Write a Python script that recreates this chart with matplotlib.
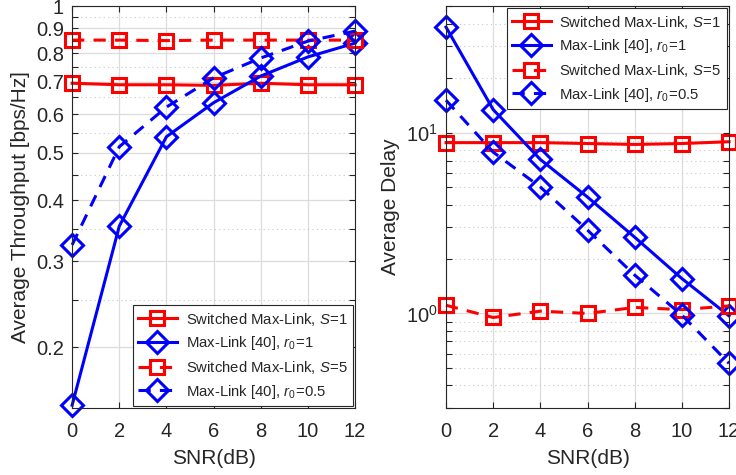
import matplotlib
matplotlib.use("Agg")
import matplotlib.pyplot as plt
from matplotlib.ticker import FixedLocator, NullFormatter, LogLocator

plt.rcParams['font.family'] = ['Liberation Sans', 'DejaVu Sans']
plt.rcParams['mathtext.fontset'] = 'custom'
plt.rcParams['mathtext.rm'] = 'Liberation Sans'
plt.rcParams['mathtext.it'] = 'Liberation Sans:italic'
plt.rcParams['text.color'] = '#262626'
plt.rcParams['axes.labelcolor'] = '#262626'
plt.rcParams['xtick.color'] = '#262626'
plt.rcParams['ytick.color'] = '#262626'

snr = [0, 2, 4, 6, 8, 10, 12]

# throughput [bps/Hz]
thr_s1 = [0.695, 0.69, 0.69, 0.688, 0.695, 0.69, 0.69]
thr_r1 = [0.152, 0.354, 0.54, 0.634, 0.719, 0.787, 0.84]
thr_s5 = [0.852, 0.852, 0.85, 0.852, 0.852, 0.852, 0.852]
thr_r05 = [0.324, 0.515, 0.621, 0.713, 0.783, 0.848, 0.889]

# average delay
dly_s1 = [8.8, 8.8, 8.8, 8.7, 8.6, 8.7, 8.9]
dly_r1 = [38.3, 13.4, 7.1, 4.4, 2.64, 1.56, 0.97]
dly_s5 = [1.11, 0.95, 1.03, 1.0, 1.08, 1.05, 1.1]
dly_r05 = [15.1, 7.8, 5.0, 2.89, 1.63, 0.98, 0.53]

labels = [r'Switched Max-Link, $\mathit{S}\!=\!\mathit{1}$',
          r'Max-Link [40], $\mathit{r_0}\!=\!\mathit{1}$',
          r'Switched Max-Link, $\mathit{S}\!=\!\mathit{5}$',
          r'Max-Link [40], $\mathit{r_0}\!=\!\mathit{0.5}$']

fig = plt.figure(figsize=(7.36, 4.75), dpi=100)
ax1 = fig.add_axes([0.098, 0.141, 0.3845, 0.846])
ax2 = fig.add_axes([0.606, 0.141, 0.3845, 0.846])

sq = dict(marker='s', ms=10.5, mfc='none', mew=2.2, lw=2.2, clip_on=False)
dm = dict(marker='D', ms=11, mfc='none', mew=2.2, lw=2.2, clip_on=False)
leg_kw = dict(fontsize=10.7, frameon=True, fancybox=False, edgecolor='#262626',
              framealpha=1, handlelength=2.6, handletextpad=0.6,
              borderpad=0.35, labelspacing=0.45, borderaxespad=0.15)


def draw(ax, s1, r1, s5, r05):
    ax.plot(snr, s1, color='#ff0000', ls='-', label=labels[0], **sq)
    ax.plot(snr, r1, color='#0000ff', ls='-', label=labels[1], **dm)
    ax.plot(snr, s5, color='#ff0000', ls=(0, (4, 3)), label=labels[2], **sq)
    ax.plot(snr, r05, color='#0000ff', ls=(0, (4, 3)), label=labels[3], **dm)
    ax.set_yscale('log')
    ax.set_xlim(0, 12)
    ax.set_xticks(snr)
    ax.set_xlabel('SNR(dB)', fontsize=15, labelpad=6)
    ax.tick_params(axis='both', which='both', direction='in', top=True, right=True,
                   labelsize=14.5, length=4, width=0.8)
    ax.tick_params(axis='x', pad=10)
    ax.tick_params(axis='y', pad=6)
    ax.grid(True, which='major', color='#dcdcdc', lw=0.9)
    ax.grid(True, which='minor', axis='y', color='#c8c8c8', lw=0.8, ls=(0, (1, 3)))
    ax.set_axisbelow(True)
    for sp in ax.spines.values():
        sp.set_color('#262626')
        sp.set_linewidth(0.8)


draw(ax1, thr_s1, thr_r1, thr_s5, thr_r05)
ax1.set_ylim(0.15, 1)
ax1.yaxis.set_major_locator(FixedLocator([0.2, 0.3, 0.4, 0.5, 0.6, 0.7, 0.8, 0.9, 1.0]))
ax1.set_yticklabels(['0.2', '0.3', '0.4', '0.5', '0.6', '0.7', '0.8', '0.9', '1'])
ax1.yaxis.set_minor_locator(FixedLocator([0.25, 0.35, 0.45, 0.55, 0.65, 0.75, 0.85, 0.95]))
ax1.yaxis.set_minor_formatter(NullFormatter())
ax1.set_ylabel('Average Throughput [bps/Hz]', fontsize=15, labelpad=4)
ax1.legend(loc='lower right', **leg_kw).get_frame().set_linewidth(0.8)

draw(ax2, dly_s1, dly_r1, dly_s5, dly_r05)
ax2.set_ylim(0.3, 50)
ax2.yaxis.set_major_locator(FixedLocator([1, 10]))
ax2.set_yticklabels([r'$10^0$', r'$10^1$'])
ax2.yaxis.set_minor_locator(LogLocator(base=10, subs=range(2, 10)))
ax2.yaxis.set_minor_formatter(NullFormatter())
ax2.set_ylabel('Average Delay', fontsize=15, labelpad=4)
ax2.legend(loc='upper right', **leg_kw).get_frame().set_linewidth(0.8)

fig.savefig('out.png', dpi=100)
